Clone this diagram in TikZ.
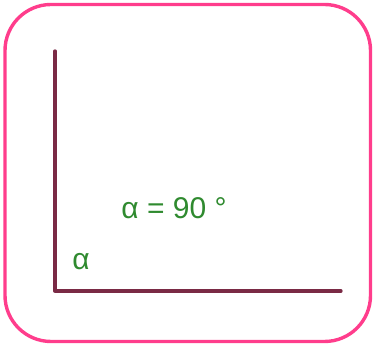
\documentclass[tikz,border=0pt]{standalone}
\usepackage{fontspec}
\setmainfont{Liberation Sans}
\definecolor{frame}{HTML}{FF3D8C}
\definecolor{axis}{HTML}{7A2A45}
\definecolor{lbl}{HTML}{2F8A2F}
\begin{document}
\begin{tikzpicture}[x=1pt,y=-1pt,
  axisline/.style={draw=axis,line width=3.3pt,line cap=round,line join=round},
  lbltext/.style={text=lbl,font=\fontsize{30}{32}\selectfont,inner sep=0pt}]
\useasboundingbox (0,0) rectangle (375,347);
\draw[frame,line width=3.4pt,rounded corners=46pt] (5,4.5) rectangle (370.5,341.5);
\coordinate (top) at (55,51);
\coordinate (corner) at (55,291);
\coordinate (right) at (341,291);
\draw[axisline] (top) -- (corner) -- (right);
\node[lbltext,anchor=base] (eq) at (174,218.5) {α = 90 °};
\node[lbltext,anchor=base] (a) at (81,270) {α};
\end{tikzpicture}
\end{document}
